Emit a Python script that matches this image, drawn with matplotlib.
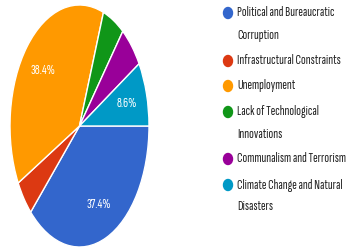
import matplotlib
matplotlib.use('Agg')
import matplotlib.pyplot as plt
from matplotlib.patches import Ellipse

# 数据
categories = ['Political and Bureaucratic\nCorruption',
              'Infrastructural Constraints',
              'Unemployment',
              'Lack of Technological\nInnovations',
              'Communalism and Terrorism',
              'Climate Change and Natural\nDisasters']
values = [37.4, 4.8, 38.4, 5.1, 5.7, 8.6]
colors = ['#3366cc', '#dc3912', '#ff9900', '#109618', '#990099', '#0099c6']

fonts = ['Sofia Sans Extra Condensed', 'PT Sans Narrow', 'Liberation Sans', 'DejaVu Sans']
plt.rcParams['font.family'] = fonts

W, H = 361, 248
fig = plt.figure(figsize=(W / 100, H / 100), dpi=100)
r = fig.canvas.get_renderer()

# 按参考图的文字宽度调整字号
probe = fig.text(0, 0, 'Infrastructural Constraints', fontsize=10)
fs = 10 * 104 / probe.get_window_extent(r).width
probe.set_text('38.4%')
fs_pct = 10 * 25 / probe.get_window_extent(r).width
probe.remove()

# 饼图（横向压扁的椭圆）
ax = fig.add_axes([10 / W, 1 / H, 139 / W, 242 / H])


def pct(p):
    return '%.1f%%' % p if p > 7 else ''


wedges, texts, autotexts = ax.pie(values, colors=colors, startangle=0, counterclock=False,
                                  autopct=pct, pctdistance=0.7,
                                  wedgeprops={'edgecolor': 'white', 'linewidth': 1})
for t in autotexts:
    t.set_color('white')
    t.set_fontsize(fs_pct)
ax.set_aspect('auto')
ax.set_xlim(-1, 1)
ax.set_ylim(-1, 1)

# 图例
lg = fig.add_axes([0, 0, 1, 1])
lg.set_xlim(0, W)
lg.set_ylim(H, 0)
lg.axis('off')

row_y = [13, 61, 86, 112, 159, 185]
for name, c, y in zip(categories, colors, row_y):
    lg.add_patch(Ellipse((228, y), 9, 11, color=c))
    for i, line in enumerate(name.split('\n')):
        lg.text(237, y + i * 22, line, fontsize=fs, color='#222222', va='center', ha='left')

plt.savefig('out.png', dpi=100)
